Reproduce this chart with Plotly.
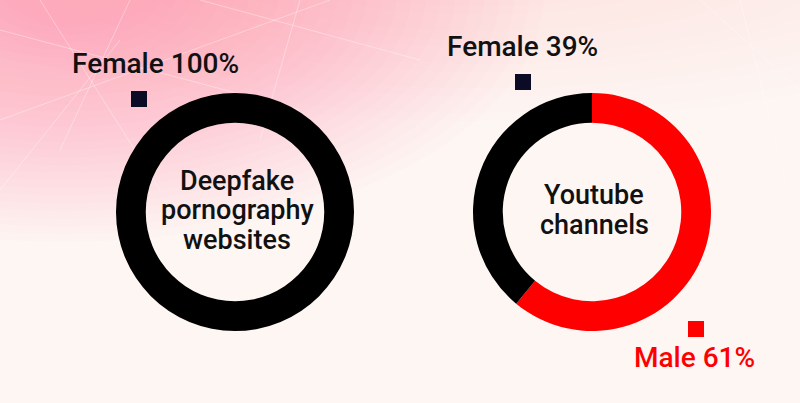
import plotly.graph_objects as go

# ---- data ----
categories = ["Female", "Male"]
deepfake_values = [100, 0]
youtube_values = [39, 61]
chart_titles = ["Deepfake<br>pornography<br>websites", "Youtube<br>channels"]
slice_colors = ["#000000", "#ff0000"]
label_colors = ["#111111", "#ff0000"]
square_colors = ["#0b0b26", "#ff0000"]

W, H = 800, 403
FONT = "Roboto"

def px(x):
    return x / W

def py(y):
    return 1 - y / H

fig = go.Figure()

R = 119
centers = [(235, 212), (592, 212)]
values_list = [deepfake_values, youtube_values]
for (cx, cy), vals in zip(centers, values_list):
    # Male drawn clockwise from 12 o'clock, Female fills the remaining left part
    fig.add_trace(go.Pie(
        labels=categories[::-1],
        values=vals[::-1],
        sort=False,
        direction="clockwise",
        rotation=0,
        hole=0.75,
        marker=dict(colors=slice_colors[::-1], line=dict(width=0)),
        textinfo="none",
        hoverinfo="label+percent",
        showlegend=False,
        domain=dict(x=[px(cx - R), px(cx + R)], y=[py(cy + R), py(cy - R)]),
    ))

shapes = []
N1 = 30
for i in range(N1):
    r = 1 - i * (0.92 / N1)
    shapes.append(dict(type="circle", xref="paper", yref="paper", layer="below",
                       x0=0.08 - 0.6 * r, x1=0.08 + 0.6 * r,
                       y0=1.02 - 0.62 * r, y1=1.02 + 0.62 * r,
                       fillcolor="rgba(236,120,140,0.021)", line=dict(width=0)))
N2 = 20
for i in range(N2):
    r = 1 - i * (0.9 / N2)
    shapes.append(dict(type="circle", xref="paper", yref="paper", layer="below",
                       x0=0.6 - 0.75 * r, x1=0.6 + 0.75 * r,
                       y0=1.15 - 0.45 * r, y1=1.15 + 0.45 * r,
                       fillcolor="rgba(238,150,162,0.012)", line=dict(width=0)))
lines = [((0, 120), (330, 0)), ((40, 0), (160, 190)), ((130, 0), (60, 150)),
         ((0, 30), (300, 110)), ((200, 0), (420, 60)), ((300, 0), (260, 140)),
         ((700, 0), (800, 90)), ((740, 0), (790, 200)), ((0, 190), (120, 40))]
for (a, b) in lines:
    shapes.append(dict(type="line", xref="paper", yref="paper", layer="below",
                       x0=px(a[0]), y0=py(a[1]), x1=px(b[0]), y1=py(b[1]),
                       line=dict(color="rgba(255,255,255,0.35)", width=1)))

sq = 8
squares = [((139, 99), square_colors[0]), ((523, 82), square_colors[0]), ((696, 329), square_colors[1])]
for (cx, cy), col in squares:
    shapes.append(dict(type="rect", xref="paper", yref="paper",
                       x0=px(cx - sq), x1=px(cx + sq), y0=py(cy + sq), y1=py(cy - sq),
                       fillcolor=col, line=dict(width=0)))

annotations = []
def add_text(text, x, y, size, color):
    annotations.append(dict(text=text, x=px(x), y=py(y), xref="paper", yref="paper",
                            xanchor="center", yanchor="middle", showarrow=False,
                            font=dict(family=FONT, size=size, color=color, weight=500)))

add_text(f"{categories[0]} {deepfake_values[0]}%", 155, 63, 28, label_colors[0])
add_text(f"{categories[0]} {youtube_values[0]}%", 522, 47, 28, label_colors[0])
add_text(f"{categories[1]} {youtube_values[1]}%", 694, 357, 28, label_colors[1])

for (cx, cy), title in zip(centers, chart_titles):
    parts = title.split("<br>")
    n = len(parts)
    step = 29.5
    for k, part in enumerate(parts):
        yy = cy + (k - (n - 1) / 2) * step
        add_text(part, cx + 2, yy - 2, 27, "#111111")

fig.update_layout(
    width=W, height=H,
    margin=dict(l=0, r=0, t=0, b=0),
    paper_bgcolor="#fdf6f3",
    plot_bgcolor="rgba(0,0,0,0)",
    shapes=shapes,
    annotations=annotations,
    showlegend=False,
)

fig.write_html("out.html", config={"displayModeBar": False},
               post_script="document.body.style.margin='0';document.body.style.overflow='hidden';")
